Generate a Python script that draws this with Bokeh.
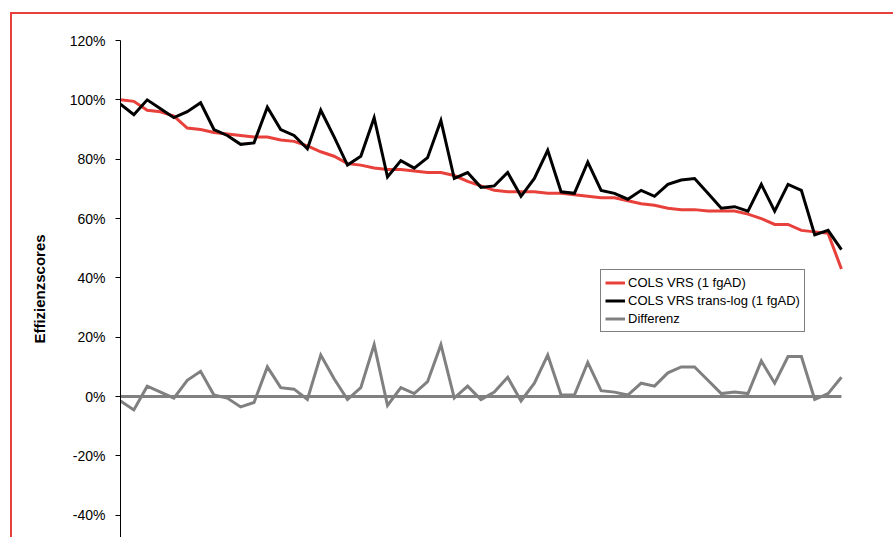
from bokeh.plotting import figure
from bokeh.models import Range1d, Legend, LegendItem, SingleIntervalTicker, CustomJSTickFormatter
from bokeh.embed import file_html
from bokeh.resources import INLINE

# Data (percent)
cols_vrs = [100, 99.5, 96.5, 96, 94.5, 90.5, 90, 89, 88.5, 88, 87.5, 87.5, 86.5, 86, 84.5,
            82.5, 81, 78.5, 78, 77, 76.5, 76.5, 76, 75.5, 75.5, 74.5, 72.5, 71, 69.5, 69,
            69, 69, 68.5, 68.5, 68, 67.5, 67, 67, 66, 65, 64.5, 63.5, 63, 63, 62.5,
            62.5, 62.5, 61.5, 60, 58, 58, 56, 55.5, 55, 43]
cols_translog = [98.5, 95, 100, 97, 94, 96, 99, 90, 88, 85, 85.5, 97.5, 90, 88, 83.5,
                 96.5, 87.5, 78, 81, 94, 74, 79.5, 77, 80.5, 93, 73.5, 75.5, 70.5, 71, 75.5,
                 67.5, 73.5, 83, 69, 68.5, 79, 69.5, 68.5, 66.5, 69.5, 67.5, 71.5, 73, 73.5, 68.5,
                 63.5, 64, 62.5, 71.5, 62.5, 71.5, 69.5, 54.5, 56, 49.5]
differenz = [-1.5, -4.5, 3.5, 1.5, -0.5, 5.5, 8.5, 0.5, -0.5, -3.5, -2, 10, 3, 2.5, -1,
             14, 6, -1, 3, 17.5, -3, 3, 1, 5, 17.5, -0.5, 3.5, -1, 1.5, 6.5,
             -1.5, 4.5, 14, 0.5, 0.5, 11.5, 2, 1.5, 0.5, 4.5, 3.5, 8, 10, 10, 5.5,
             1, 1.5, 1, 12, 4.5, 13.5, 13.5, -1, 1, 6.5]
x = list(range(len(cols_vrs)))
labels = ["COLS VRS (1 fgAD)", "COLS VRS trans-log (1 fgAD)", "Differenz"]
colors = ["#e8403a", "#000000", "#808080"]

FONT = "Liberation Sans"
BORDER = "#e8403a"

p = figure(width=893, height=537, output_backend="svg", toolbar_location=None,
           x_range=Range1d(0, 57.9), y_range=Range1d(-47.5, 120),
           min_border_left=120, min_border_right=0, min_border_top=40, min_border_bottom=0)
p.background_fill_color = "white"
p.border_fill_alpha = 0
p.outline_line_color = None
p.grid.visible = False
p.xaxis.visible = False
p.styles = {
    "background": (f"linear-gradient({BORDER},{BORDER}) 10px 12px / 2px 100% no-repeat, "
                   f"linear-gradient({BORDER},{BORDER}) 10px 12px / 100% 2px no-repeat, white"),
}

yax = p.yaxis[0]
yax.ticker = SingleIntervalTicker(interval=20)
yax.formatter = CustomJSTickFormatter(code="return tick.toFixed(0) + '%';")
yax.axis_line_color = "black"
yax.axis_line_width = 1
yax.major_tick_in = 0
yax.major_tick_out = 5
yax.major_tick_line_color = "black"
yax.minor_tick_line_color = None
yax.major_label_text_font = FONT
yax.major_label_text_font_size = "14px"
yax.major_label_text_color = "black"
yax.major_label_standoff = 10
yax.axis_label = "Effizienzscores"
yax.axis_label_text_font = FONT
yax.axis_label_text_font_style = "bold"
yax.axis_label_text_font_size = "15px"
yax.axis_label_text_color = "black"
yax.axis_label_standoff = 19

# zero line (category axis)
p.line([x[0], x[-1]], [0, 0], line_color="#808080", line_width=3)

r_diff = p.line(x, differenz, line_color=colors[2], line_width=3, line_join="miter")
r_red = p.line(x, cols_vrs, line_color=colors[0], line_width=3, line_join="miter")
r_blk = p.line(x, cols_translog, line_color=colors[1], line_width=3, line_join="miter")

legend = Legend(items=[LegendItem(label=labels[0], renderers=[r_red]),
                       LegendItem(label=labels[1], renderers=[r_blk]),
                       LegendItem(label=labels[2], renderers=[r_diff])],
                location=(480, 205))
legend.label_text_font = FONT
legend.label_text_font_size = "13px"
legend.label_text_color = "black"
legend.glyph_width = 20
legend.glyph_height = 17
legend.label_height = 17
legend.label_standoff = 3
legend.spacing = 1
legend.padding = 4
legend.margin = 0
legend.border_line_color = "black"
legend.border_line_width = 1
legend.background_fill_alpha = 1
p.add_layout(legend, "center")

open("out.html", "w").write(file_html(p, INLINE))
